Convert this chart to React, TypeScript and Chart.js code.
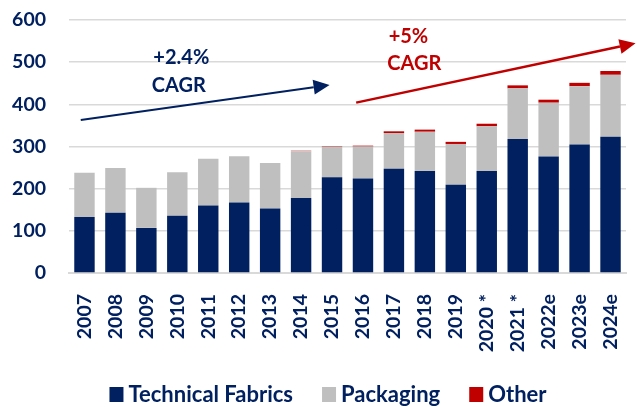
import React, { useEffect, useRef } from "react";
import { Chart, registerables } from "chart.js";

Chart.register(...registerables);

const categories = ["2007", "2008", "2009", "2010", "2011", "2012", "2013", "2014", "2015", "2016", "2017", "2018", "2019", "2020 *", "2021 *", "2022e", "2023e", "2024e"];
const technicalFabrics = [133, 143, 107, 136, 160, 167, 153, 178, 227, 224, 247, 242, 209, 242, 318, 276, 305, 323];
const packaging = [105, 106, 95, 103, 111, 110, 108, 111, 72, 76, 85, 93, 97, 106, 120, 128, 138, 147];
const other = [0, 0, 0, 0, 0, 0, 0, 1, 1, 2, 4, 5, 5, 6, 7, 7, 8, 9];
const yTicks = [0, 100, 200, 300, 400, 500, 600];

const NAVY = "#002060";
const GRAY = "#bfbfbf";
const RED = "#c00000";
const FONT = "Lato, 'Open Sans', sans-serif";

// annotation anchors in data space: [categoryIndex, value]
const blueArrow = { from: [-0.12, 363], to: [7.92, 446] };
const redArrow = { from: [8.78, 404], to: [17.81, 545] };
const blueText = [
  { text: "+2.4%", at: [3.13, 510] },
  { text: "CAGR", at: [3.05, 444] },
];
const redText = [
  { text: "+5%", at: [10.47, 561] },
  { text: "CAGR", at: [10.66, 496] },
];

function drawArrow(ctx: CanvasRenderingContext2D, x1: number, y1: number, x2: number, y2: number, color: string, lw: number) {
  const ang = Math.atan2(y2 - y1, x2 - x1);
  const headLen = 16;
  const headHalf = 7.5;
  const bx = x2 - headLen * Math.cos(ang);
  const by = y2 - headLen * Math.sin(ang);
  ctx.save();
  ctx.strokeStyle = color;
  ctx.fillStyle = color;
  ctx.lineWidth = lw;
  ctx.beginPath();
  ctx.moveTo(x1, y1);
  ctx.lineTo(bx, by);
  ctx.stroke();
  ctx.beginPath();
  ctx.moveTo(x2, y2);
  ctx.lineTo(bx - headHalf * Math.sin(ang), by + headHalf * Math.cos(ang));
  ctx.lineTo(bx + headHalf * Math.sin(ang), by - headHalf * Math.cos(ang));
  ctx.closePath();
  ctx.fill();
  ctx.restore();
}

const annotationPlugin = {
  id: "cagrAnnotations",
  afterDraw(chart: any) {
    const { ctx, scales } = chart;
    const xs = scales.x;
    const ys = scales.y;
    const px = (p: number[]) => [xs.getPixelForValue(p[0]), ys.getPixelForValue(p[1])];
    const [b1x, b1y] = px(blueArrow.from);
    const [b2x, b2y] = px(blueArrow.to);
    drawArrow(ctx, b1x, b1y, b2x, b2y, NAVY, 2);
    const [r1x, r1y] = px(redArrow.from);
    const [r2x, r2y] = px(redArrow.to);
    drawArrow(ctx, r1x, r1y, r2x, r2y, RED, 2.5);
    ctx.save();
    ctx.font = `bold 20px ${FONT}`;
    ctx.textAlign = "center";
    ctx.textBaseline = "middle";
    ctx.fillStyle = NAVY;
    blueText.forEach((t) => {
      const [x, y] = px(t.at);
      ctx.fillText(t.text, x, y);
    });
    ctx.fillStyle = RED;
    redText.forEach((t) => {
      const [x, y] = px(t.at);
      ctx.fillText(t.text, x, y);
    });
    ctx.restore();
  },
};

// custom legend drawn from the datasets
const legendPlugin = {
  id: "customLegend",
  afterDraw(chart: any) {
    const { ctx } = chart;
    const ds = chart.data.datasets;
    const box = 14;
    const gapText = 5;
    const gapItem = 29;
    ctx.save();
    ctx.font = `bold 22px ${FONT}`;
    ctx.textBaseline = "middle";
    ctx.textAlign = "left";
    const widths = ds.map((d: any) => box + gapText + ctx.measureText(d.label).width);
    const total = widths.reduce((a: number, b: number) => a + b, 0) + gapItem * (ds.length - 1);
    let x = 328 - total / 2;
    const cy = chart.height - 13;
    ds.forEach((d: any, i: number) => {
      ctx.fillStyle = d.backgroundColor;
      ctx.fillRect(x, cy - 7, box, 15);
      ctx.fillStyle = NAVY;
      ctx.fillText(d.label, x + box + gapText, cy + 1);
      x += widths[i] + gapItem;
    });
    ctx.restore();
  },
};

export default function App() {
  const ref = useRef<HTMLCanvasElement>(null);
  useEffect(() => {
    if (!ref.current) return;
    const chart = new Chart(ref.current, {
      type: "bar",
      data: {
        labels: categories,
        datasets: [
          { label: "Technical Fabrics", data: technicalFabrics, backgroundColor: NAVY, barPercentage: 0.66, categoryPercentage: 1 },
          { label: "Packaging", data: packaging, backgroundColor: GRAY, barPercentage: 0.66, categoryPercentage: 1 },
          { label: "Other", data: other, backgroundColor: RED, barPercentage: 0.66, categoryPercentage: 1 },
        ],
      },
      options: {
        animation: false,
        responsive: true,
        maintainAspectRatio: false,
        layout: { padding: { top: 20, right: 11, left: 0, bottom: 44 } },
        plugins: {
          tooltip: { enabled: false },
          legend: { display: false },
        },
        scales: {
          x: {
            stacked: true,
            grid: { display: false, drawTicks: false },
            border: { display: true, color: "#d9d9d9", width: 2 },
            ticks: {
              color: NAVY,
              font: { family: FONT, size: 19.5, weight: "bold" },
              minRotation: 90,
              maxRotation: 90,
              padding: 21,
              autoSkip: false,
            },
            afterFit(scale: any) {
              scale.height = 90;
              scale.paddingLeft = 0;
              scale.paddingRight = 0;
            },
          },
          y: {
            stacked: true,
            min: 0,
            max: 600,
            afterBuildTicks(scale: any) {
              scale.ticks = yTicks.map((v) => ({ value: v }));
            },
            grid: { color: "#d9d9d9", lineWidth: 1.5, drawTicks: false },
            border: { display: false },
            ticks: {
              color: NAVY,
              font: { family: FONT, size: 19.5, weight: "bold" },
              padding: 23,
            },
            afterFit(scale: any) {
              scale.width = 69;
              scale.paddingTop = 0;
              scale.paddingBottom = 0;
            },
          },
        },
      },
      plugins: [annotationPlugin, legendPlugin],
    } as any);
    return () => chart.destroy();
  }, []);
  return (
    <div style={{ position: "fixed", left: 0, top: 0, width: 637, height: 407 }}>
      <canvas ref={ref} />
    </div>
  );
}
